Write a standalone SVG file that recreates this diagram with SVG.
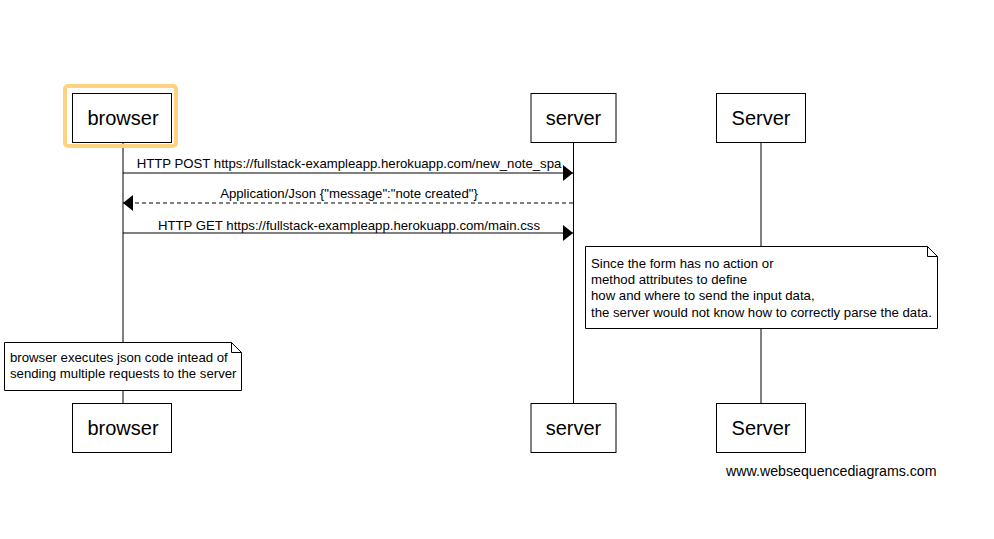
<svg xmlns="http://www.w3.org/2000/svg" width="994" height="539" viewBox="0 0 994 539">
<defs>
<style>
.box{fill:#fff;stroke:#000;stroke-width:1}
.pt{font-family:"Liberation Sans",Arial,sans-serif;font-size:20px;text-anchor:middle;fill:#000}
.msg{font-family:"Liberation Sans",Arial,sans-serif;font-size:13.2px;text-anchor:middle;fill:#000}
.nt{font-family:"Liberation Sans",Arial,sans-serif;font-size:13.2px;fill:#000}
.life{stroke:#000;stroke-width:1}
.ln{stroke:#000;stroke-width:1;fill:none}
</style>
<marker id="ah" markerWidth="10" markerHeight="16" refX="10" refY="8" orient="auto" markerUnits="userSpaceOnUse">
<path d="M0,0 L10,8 L0,16 Z" fill="#000"/>
</marker>
</defs>
<rect width="994" height="539" fill="#fff"/>
<g id="lifelines">
<line class="life" x1="123" y1="142" x2="123" y2="403"/>
<line class="life" x1="573.5" y1="142" x2="573.5" y2="403"/>
<line class="life" x1="761" y1="142" x2="761" y2="403"/>
</g>
<g id="connectors">
<line class="ln" x1="123" y1="173" x2="573" y2="173" marker-end="url(#ah)"/>
<text class="msg" x="349" y="168">HTTP POST https://fullstack-exampleapp.herokuapp.com/new_note_spa</text>
<line class="ln" x1="573" y1="203" x2="123" y2="203" stroke-dasharray="4,3" marker-end="url(#ah)"/>
<text class="msg" x="349" y="198">Application/Json {"message":"note created"}</text>
<line class="ln" x1="123" y1="233" x2="573" y2="233" marker-end="url(#ah)"/>
<text class="msg" x="349" y="230">HTTP GET https://fullstack-exampleapp.herokuapp.com/main.css</text>
</g>
<g id="browser-top">
<rect x="65" y="86" width="111" height="60" rx="3" fill="none" stroke="#FFD27F" stroke-width="4"/>
<rect class="box" x="72.5" y="93.5" width="99" height="49"/>
<text class="pt" x="123" y="125">browser</text>
</g>
<g id="server-top">
<rect class="box" x="531" y="93.5" width="85" height="49"/>
<text class="pt" x="573.5" y="125">server</text>
</g>
<g id="Server-top">
<rect class="box" x="716.5" y="93.5" width="89" height="49"/>
<text class="pt" x="761" y="125">Server</text>
</g>
<g id="note-server">
<path class="box" d="M585.5,246.5 L927.5,246.5 L937.5,256.5 L937.5,328.5 L585.5,328.5 Z"/>
<path class="ln" d="M927.5,246.5 L927.5,256.5 L937.5,256.5"/>
<text class="nt" x="591" y="268">Since the form has no action or</text>
<text class="nt" x="591" y="284">method attributes to define</text>
<text class="nt" x="591" y="300">how and where to send the input data,</text>
<text class="nt" x="591" y="317">the server would not know how to correctly parse the data.</text>
</g>
<g id="note-browser">
<path class="box" d="M4.5,342.5 L231.5,342.5 L241.5,352.5 L241.5,390.5 L4.5,390.5 Z"/>
<path class="ln" d="M231.5,342.5 L231.5,352.5 L241.5,352.5"/>
<text class="nt" x="10" y="362">browser executes json code intead of</text>
<text class="nt" x="10" y="378">sending multiple requests to the server</text>
</g>
<g id="browser-bottom">
<rect class="box" x="72.5" y="403.5" width="99" height="49"/>
<text class="pt" x="123" y="435">browser</text>
</g>
<g id="server-bottom">
<rect class="box" x="531" y="403.5" width="85" height="49"/>
<text class="pt" x="573.5" y="435">server</text>
</g>
<g id="Server-bottom">
<rect class="box" x="716.5" y="403.5" width="89" height="49"/>
<text class="pt" x="761" y="435">Server</text>
</g>
<text class="nt" x="726" y="476" style="font-size:14.2px">www.websequencediagrams.com</text>
</svg>
